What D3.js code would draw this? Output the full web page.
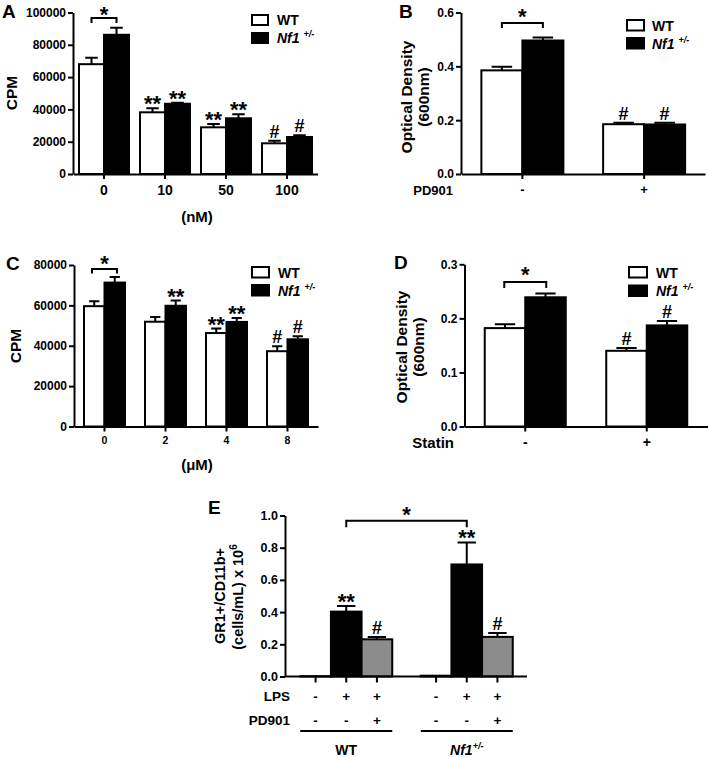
<!DOCTYPE html>
<meta charset="utf-8">
<script src="https://d3js.org/d3.v7.min.js"></script>
<style>
  body { margin: 0; background: #fff; }
  text { font-family: "Liberation Sans", Arial, sans-serif; font-weight: bold; fill: #000; }
</style>
<div id="fig"></div>
<script>

// ---- data ----
// A: CPM vs dose (nM)
var doseA = ["0", "10", "50", "100"];
var wtA = [68000, 38200, 28900, 19000];
var wtErrA = [4000, 2500, 2100, 1600];
var nfA = [86200, 43500, 34500, 22900];
var nfErrA = [4400, 600, 2500, 1100];
var sigWtA = ["", "**", "**", "#"];
var sigNfA = ["", "**", "**", "#"];
var ticksA = [0, 20000, 40000, 60000, 80000, 100000];

// B: optical density, PD901 - / +
var pdB = ["-", "+"];
var wtB = [0.385, 0.185];
var wtErrB = [0.013, 0.005];
var nfB = [0.496, 0.184];
var nfErrB = [0.011, 0.006];
var sigWtB = ["", "#"];
var sigNfB = ["", "#"];
var ticksB = [0, 0.2, 0.4, 0.6];

// C: CPM vs dose (uM)
var doseC = ["0", "2", "4", "8"];
var wtC = [59600, 51900, 46300, 37300];
var wtErrC = [2500, 2300, 2200, 2400];
var nfC = [71300, 59800, 51800, 43200];
var nfErrC = [2800, 2600, 1900, 1500];
var sigWtC = ["", "", "**", "#"];
var sigNfC = ["", "**", "**", "#"];
var ticksC = [0, 20000, 40000, 60000, 80000];

// D: optical density, Statin - / +
var statD = ["-", "+"];
var wtD = [0.182, 0.140];
var wtErrD = [0.007, 0.005];
var nfD = [0.239, 0.187];
var nfErrD = [0.007, 0.008];
var sigWtD = ["", "#"];
var sigNfD = ["", "#"];
var ticksD = [0, 0.1, 0.2, 0.3];

// E: GR1+/CD11b+ cells
var genoE = ["WT", "Nf1"];
var lpsE = ["-", "+", "+"];
var pdE = ["-", "-", "+"];
var fillE = ["#000", "#000", "#8c8c8c"];
var wtE = [0.002, 0.403, 0.231];
var wtErrE = [0, 0.035, 0.015];
var nfE = [0.005, 0.696, 0.246];
var nfErrE = [0, 0.137, 0.024];
var sigWtE = ["", "**", "#"];
var sigNfE = ["", "**", "#"];
var ticksE = [0, 0.2, 0.4, 0.6, 0.8, 1.0];

var svg = d3.select("#fig").append("svg")
    .attr("width", 708)
    .attr("height", 758);

// significance mark sitting above a y position
function sig(g, x, yTop, label) {
    if (!label) return;
    var star = label.indexOf("*") >= 0;
    g.append("text")
        .attr("x", x)
        .attr("y", star ? yTop + 3 : yTop - 3)
        .attr("text-anchor", "middle")
        .style("font-size", star ? "22px" : "18px")
        .text(label);
}

function bracket(g, x1, x2, yTop, leg, starY) {
    g.append("path")
        .attr("d", "M" + x1 + "," + (yTop + leg) + "V" + yTop + "H" + x2 + "V" + (yTop + leg))
        .attr("fill", "none").attr("stroke", "#000").attr("stroke-width", 2);
    g.append("text")
        .attr("x", (x1 + x2) / 2)
        .attr("y", starY + 9)
        .attr("text-anchor", "middle")
        .style("font-size", "22px")
        .text("*");
}

function legend(g, o) {
    [["#fff", o.yWT], ["#000", o.yNF]].forEach(function(d) {
        g.append("rect")
            .attr("x", o.x).attr("y", d[1])
            .attr("width", o.w).attr("height", o.h)
            .attr("fill", d[0]).attr("stroke", "#000").attr("stroke-width", 2);
    });
    g.append("text").attr("x", o.tx).attr("y", o.yWT + o.h).style("font-size", "14px").text("WT");
    var t = g.append("text").attr("x", o.tx).attr("y", o.yNF + o.h).style("font-size", "14px");
    t.append("tspan").style("font-style", "italic").text("Nf1");
    t.append("tspan").attr("dx", 4).attr("dy", -6).style("font-size", "9px").style("font-style", "italic").text("+/-");
}

function yTitle(g, lines, x0, dx, cy, size) {
    lines.forEach(function(s, i) {
        g.append("text")
            .attr("transform", "translate(" + (x0 + i * dx) + "," + cy + ") rotate(-90)")
            .attr("text-anchor", "middle")
            .style("font-size", size + "px")
            .text(s);
    });
}

function styleAxis(a, size) {
    a.select(".domain").attr("stroke-width", 2);
    a.selectAll(".tick line").attr("stroke-width", 2);
    a.selectAll("text").style("font-size", size + "px");
}

// WT / Nf1 paired bar panel (A-D)
function pairPanel(o) {
    var g = svg.append("g");
    var y = d3.scaleLinear().domain([0, o.max]).range([o.yBottom, o.yTop]);
    var x = d3.scaleBand().domain(o.cats).range([o.xLeft, o.xRight]);
    var sub = d3.scaleBand().domain(["wt", "nf"]).range([-o.barW, o.barW]);

    var rows = [];
    o.cats.forEach(function(c, i) {
        rows.push({cat: c, key: "wt", v: o.wt[i], e: o.wtErr[i], s: o.sigWt[i]});
        rows.push({cat: c, key: "nf", v: o.nf[i], e: o.nfErr[i], s: o.sigNf[i]});
    });
    var cx = function(d) { return x(d.cat) + x.bandwidth() / 2 + sub(d.key) + sub.bandwidth() / 2; };

    // error bars (upper only)
    rows.forEach(function(d) {
        var xc = cx(d), cap = sub.bandwidth() * 0.25;
        g.append("path")
            .attr("d", "M" + xc + "," + y(d.v) + "V" + y(d.v + d.e) + "M" + (xc - cap) + "," + y(d.v + d.e) + "H" + (xc + cap))
            .attr("stroke", "#000").attr("stroke-width", 2).attr("fill", "none");
    });

    g.selectAll("rect.bar").data(rows).enter().append("rect")
        .attr("class", "bar")
        .attr("x", function(d) { return x(d.cat) + x.bandwidth() / 2 + sub(d.key); })
        .attr("y", function(d) { return y(d.v); })
        .attr("width", sub.bandwidth())
        .attr("height", function(d) { return y(0) - y(d.v); })
        .attr("fill", function(d) { return d.key == "wt" ? "#fff" : "#000"; })
        .attr("stroke", "#000").attr("stroke-width", 2);

    rows.forEach(function(d) { sig(g, cx(d), y(d.v + d.e), d.s); });

    var ya = g.append("g").attr("transform", "translate(" + o.yAxisX + ",0)")
        .call(d3.axisLeft(y).tickValues(o.ticks).tickFormat(o.fmt).tickSize(5).tickSizeOuter(0).tickPadding(2));
    styleAxis(ya, 12);
    var xa = g.append("g").attr("transform", "translate(0," + o.yBottom + ")")
        .call(d3.axisBottom(x).tickSize(5).tickSizeOuter(0).tickPadding(o.xPad));
    styleAxis(xa, o.xFont);

    // bracket on first category
    var c0 = x(o.cats[0]) + x.bandwidth() / 2;
    bracket(g, c0 - o.brHalf, c0 + o.brHalf, o.brY, o.brLeg, o.starY);

    g.append("text").attr("x", o.letter[0]).attr("y", o.letter[1]).style("font-size", "19px").text(o.name);
    g.append("text").attr("x", o.xTitle[0]).attr("y", o.xTitle[1])
        .attr("text-anchor", o.xTitle[2]).style("font-size", o.xTitle[3] + "px").text(o.xTitle[4]);
    yTitle(g, o.yLines, o.yT[0], o.yT[1], o.yT[2], 15.5);
    legend(g, o.leg);
}

var fmtInt = d3.format("d"), fmt1 = d3.format(".1f");

pairPanel({name: "A", cats: doseA, wt: wtA, wtErr: wtErrA, nf: nfA, nfErr: nfErrA, sigWt: sigWtA, sigNf: sigNfA,
    ticks: ticksA, fmt: fmtInt, max: 100000, yTop: 12.5, yBottom: 174, xLeft: 73.5, xRight: 317.5, yAxisX: 73,
    barW: 25, xFont: 14, xPad: 6, brHalf: 12.5, brY: 18, brLeg: 5, starY: 13,
    letter: [2, 18], xTitle: [197, 222, "middle", 15, "(nM)"], yLines: ["CPM"], yT: [17, 0, 93],
    leg: {x: 252, w: 16, h: 10, yWT: 15, yNF: 33, tx: 277}});

pairPanel({name: "B", cats: pdB, wt: wtB, wtErr: wtErrB, nf: nfB, nfErr: nfErrB, sigWt: sigWtB, sigNf: sigNfB,
    ticks: ticksB, fmt: fmt1, max: 0.6, yTop: 12.5, yBottom: 174, xLeft: 461.5, xRight: 705, yAxisX: 461,
    barW: 41, xFont: 13, xPad: 6, brHalf: 20.5, brY: 23, brLeg: 5, starY: 15,
    letter: [399, 18], xTitle: [453, 194.5, "end", 13, "PD901"], yLines: ["Optical Density", "(600nm)"], yT: [412, 17, 97],
    leg: {x: 627, w: 17, h: 10.5, yWT: 20, yNF: 38, tx: 652}});

pairPanel({name: "C", cats: doseC, wt: wtC, wtErr: wtErrC, nf: nfC, nfErr: nfErrC, sigWt: sigWtC, sigNf: sigNfC,
    ticks: ticksC, fmt: fmtInt, max: 80000, yTop: 265, yBottom: 426.5, xLeft: 74, xRight: 318, yAxisX: 74,
    barW: 20.5, xFont: 10.5, xPad: 5.5, brHalf: 12.5, brY: 269, brLeg: 4.5, starY: 262,
    letter: [6, 270], xTitle: [197, 470, "middle", 15, "(\u03bcM)"], yLines: ["CPM"], yT: [21, 0, 346],
    leg: {x: 252, w: 17, h: 10.5, yWT: 267, yNF: 285, tx: 278}});

pairPanel({name: "D", cats: statD, wt: wtD, wtErr: wtErrD, nf: nfD, nfErr: nfErrD, sigWt: sigWtD, sigNf: sigNfD,
    ticks: ticksD, fmt: fmt1, max: 0.3, yTop: 264.3, yBottom: 426.5, xLeft: 464.5, xRight: 707.5, yAxisX: 464.5,
    barW: 40.5, xFont: 14, xPad: 6, brHalf: 21, brY: 282, brLeg: 6, starY: 273,
    letter: [394, 269], xTitle: [454, 448, "end", 15, "Statin"], yLines: ["Optical Density", "(600nm)"], yT: [407, 17, 347],
    leg: {x: 629, w: 18, h: 10.5, yWT: 267, yNF: 285.5, tx: 656}});

// ---- panel E ----
(function() {
    var g = svg.append("g");
    var y = d3.scaleLinear().domain([0, 1]).range([676.5, 515.5]);
    var outer = d3.scaleBand().domain(genoE).range([286, 527]);
    var inner = d3.scaleBand().domain([0, 1, 2]).range([-46, 46]);
    var vals = {WT: wtE, Nf1: nfE}, errs = {WT: wtErrE, Nf1: nfErrE}, sigs = {WT: sigWtE, Nf1: sigNfE};
    var rows = [];
    genoE.forEach(function(gt) {
        [0, 1, 2].forEach(function(i) {
            rows.push({g: gt, i: i, v: vals[gt][i], e: errs[gt][i], s: sigs[gt][i]});
        });
    });
    var left = function(d) { return outer(d.g) + outer.bandwidth() / 2 + inner(d.i); };
    var cx = function(d) { return left(d) + inner.bandwidth() / 2; };

    rows.forEach(function(d) {
        if (!d.e) return;
        var xc = cx(d), cap = inner.bandwidth() * 0.3;
        g.append("path")
            .attr("d", "M" + xc + "," + y(d.v) + "V" + y(d.v + d.e) + "M" + (xc - cap) + "," + y(d.v + d.e) + "H" + (xc + cap))
            .attr("stroke", "#000").attr("stroke-width", 2).attr("fill", "none");
    });
    g.selectAll("rect.bar").data(rows).enter().append("rect")
        .attr("class", "bar")
        .attr("x", left)
        .attr("y", function(d) { return y(d.v); })
        .attr("width", inner.bandwidth())
        .attr("height", function(d) { return y(0) - y(d.v); })
        .attr("fill", function(d) { return fillE[d.i]; })
        .attr("stroke", "#000").attr("stroke-width", 2);
    rows.forEach(function(d) { sig(g, cx(d), y(d.v + d.e), d.s); });

    var ya = g.append("g").attr("transform", "translate(285,0)")
        .call(d3.axisLeft(y).tickValues(ticksE).tickFormat(fmt1).tickSize(5).tickSizeOuter(0).tickPadding(2));
    styleAxis(ya, 12.5);

    // x axis line + ticks at bar centres
    g.append("path").attr("d", "M285," + y(0) + "H" + outer.range()[1])
        .attr("stroke", "#000").attr("stroke-width", 2);
    rows.forEach(function(d) {
        g.append("line").attr("x1", cx(d)).attr("x2", cx(d)).attr("y1", y(0)).attr("y2", y(0) + 6)
            .attr("stroke", "#000").attr("stroke-width", 2);
        g.append("text").attr("x", cx(d)).attr("y", 701).attr("text-anchor", "middle")
            .style("font-size", "13.5px").text(lpsE[d.i]);
        g.append("text").attr("x", cx(d)).attr("y", 725).attr("text-anchor", "middle")
            .style("font-size", "13.5px").text(pdE[d.i]);
    });
    g.append("text").attr("x", 290).attr("y", 701).attr("text-anchor", "end").style("font-size", "13.5px").text("LPS");
    g.append("text").attr("x", 290).attr("y", 725).attr("text-anchor", "end").style("font-size", "13.5px").text("PD901");

    genoE.forEach(function(gt) {
        var c = outer(gt) + outer.bandwidth() / 2;
        g.append("line").attr("x1", c - 46).attr("x2", c + 46).attr("y1", 731).attr("y2", 731)
            .attr("stroke", "#000").attr("stroke-width", 2);
        var t = g.append("text").attr("x", c).attr("y", 755).attr("text-anchor", "middle").style("font-size", "14px");
        if (gt == "WT") t.text("WT");
        else {
            t.append("tspan").style("font-style", "italic").text("Nf1");
            t.append("tspan").attr("dy", -6).style("font-size", "9px").style("font-style", "italic").text("+/-");
        }
    });

    // bracket between the two LPS bars
    var b1 = cx(rows[1]), b2 = cx(rows[4]);
    bracket(g, b1, b2, 520.7, 6.5, 513);

    g.append("text").attr("x", 208).attr("y", 514).style("font-size", "19px").text("E");
    yTitle(g, ["GR1+/CD11b+"], 225, 0, 596, 14.5);
    var t2 = g.append("text")
        .attr("transform", "translate(243,597) rotate(-90)")
        .attr("text-anchor", "middle")
        .style("font-size", "14.5px");
    t2.append("tspan").text("(cells/mL) x 10");
    t2.append("tspan").attr("dy", -6).style("font-size", "10px").text("6");
})();

</script>
